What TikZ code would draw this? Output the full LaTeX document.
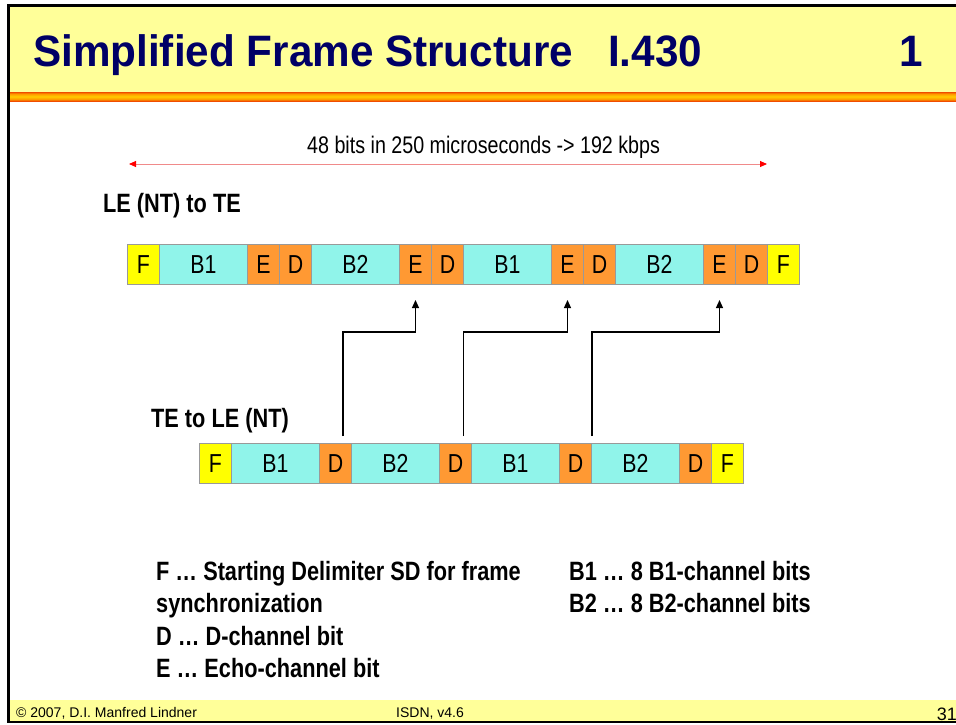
\documentclass[tikz,border=0pt]{standalone}
\usepackage{fontspec}
\setmainfont{Liberation Sans}
\newfontfamily\narrowfont[FakeStretch=0.82]{Liberation Sans}
\newfontfamily\titlefont[FakeStretch=0.96]{Liberation Sans}
\usetikzlibrary{calc,arrows.meta}
\definecolor{bandyellow}{HTML}{FFFF99}
\definecolor{titleblue}{HTML}{000066}
\definecolor{cellyellow}{HTML}{FFFF00}
\definecolor{cellcyan}{HTML}{90F4EA}
\definecolor{cellorange}{HTML}{FF9933}
\definecolor{cellborder}{HTML}{999999}
\definecolor{sdarkred}{HTML}{990000}
\definecolor{sred}{HTML}{E00000}
\definecolor{sorange}{HTML}{FF9900}
\definecolor{syellow}{HTML}{FFCC00}
\definecolor{arrowline}{HTML}{F08A8A}
\definecolor{arrowhead}{HTML}{FF0000}
\pgfdeclareverticalshading{stripeshade}{100bp}{color(0bp)=(sdarkred); color(15bp)=(sred); color(35bp)=(sorange); color(50bp)=(syellow); color(65bp)=(sorange); color(85bp)=(sred); color(100bp)=(sred)}
\tikzset{
  cell/.style={draw=cellborder, line width=1pt, minimum height=40pt, inner sep=0pt, outer sep=0pt, anchor=west,
    text height=18.6pt, text depth=0pt, font=\narrowfont\fontsize{26}{26}\selectfont},
  fcell/.style={cell, fill=cellyellow, minimum width=32pt},
  bcell/.style={cell, fill=cellcyan, minimum width=88pt},
  ocell/.style={cell, fill=cellorange, minimum width=32pt},
  conn/.style={line width=1.2pt, -{Triangle[length=8pt,width=7pt]}},
  redarrow/.style={draw=arrowline, line width=0.9pt, {Triangle[length=7pt,width=6pt,fill=arrowhead,color=arrowhead]}-{Triangle[length=7pt,width=6pt,fill=arrowhead,color=arrowhead]}},
  rowlabel/.style={anchor=base west, inner sep=0pt, font=\narrowfont\bfseries\fontsize{26.5}{26.5}\selectfont},
  legend/.style={anchor=base west, inner sep=0pt, font=\narrowfont\bfseries\fontsize{26.5}{26.5}\selectfont},
  titletext/.style={anchor=base west, inner sep=0pt, text=titleblue, font=\titlefont\bfseries\fontsize{44}{44}\selectfont},
  foot/.style={inner sep=0pt, font=\fontsize{14}{14}\selectfont},
}
\begin{document}
\begin{tikzpicture}[x=1pt,y=-1pt]
\useasboundingbox (0,0) rectangle (956,724);
\fill[white] (0,0) rectangle (956,724);
% bands
\fill[bandyellow] (8.5,5) rectangle (956,92);
\fill[shading=stripeshade] (8.5,92) rectangle (956,101);
\fill[bandyellow] (8.5,700) rectangle (956,720.5);
% frame
\draw[line width=2.5pt] (956,5.5) -- (8.7,5.5) -- (8.7,721.8) -- (956,721.8);
% title
\node[titletext] (title) at (33,66) {Simplified Frame Structure};
\node[titletext] (std) at (608,66) {I.430};
\node[titletext] (num) at (899,66) {1};
% rate arrow
\node[anchor=base west, inner sep=0pt, font=\narrowfont\fontsize{24}{24}\selectfont] (rate) at (307,153) {48 bits in 250 microseconds -> 192 kbps};
\coordinate (ra) at (129,164);
\coordinate (rb) at (767,164);
\draw[redarrow] (ra) -- (rb);
% top row
\node[rowlabel] (lbltop) at (103,212) {LE (NT) to TE};
\node[fcell] (t1) at (127.5,264) {F};
\node[bcell] (t2) at (159.5,264) {B1};
\node[ocell] (t3) at (247.5,264) {E};
\node[ocell] (t4) at (279.5,264) {D};
\node[bcell] (t5b) at (311.5,264) {B2};
\node[ocell] (t5) at (399.5,264) {E};
\node[ocell] (t6) at (431.5,264) {D};
\node[bcell] (t7) at (463.5,264) {B1};
\node[ocell] (t9) at (551.5,264) {E};
\node[ocell] (t10) at (583.5,264) {D};
\node[bcell] (t11) at (615.5,264) {B2};
\node[ocell] (t13) at (703.5,264) {E};
\node[ocell] (t14) at (735.5,264) {D};
\node[fcell] (t15) at (767.5,264) {F};
% bottom row
\node[rowlabel] (lblbot) at (151,427) {TE to LE (NT)};
\node[fcell] (b1) at (199.5,463) {F};
\node[bcell] (b2) at (231.5,463) {B1};
\node[ocell] (b3) at (319.5,463) {D};
\node[bcell] (b4) at (351.5,463) {B2};
\node[ocell] (b5) at (439.5,463) {D};
\node[bcell] (b6) at (471.5,463) {B1};
\node[ocell] (b7) at (559.5,463) {D};
\node[bcell] (b8) at (591.5,463) {B2};
\node[ocell] (b9) at (679.5,463) {D};
\node[fcell] (b10) at (711.5,463) {F};
% connectors
\draw[conn] ($(b3.north)+(7.5,-7)$) |- ($(t5.south)+(0,48)$) -- ($(t5.south)+(0,16)$);
\draw[conn] ($(b5.north)+(8,-7)$) |- ($(t9.south)+(0,48)$) -- ($(t9.south)+(0,16)$);
\draw[conn] ($(b7.north east)+(0.5,-7)$) |- ($(t13.south)+(0,48)$) -- ($(t13.south)+(0,16)$);
% legend
\node[legend] (lf) at (156,580) {F … Starting Delimiter SD for frame};
\node[legend] (lf2) at (156,612) {synchronization};
\node[legend] (ld) at (156,645) {D … D-channel bit};
\node[legend] (le) at (156,677) {E … Echo-channel bit};
\node[legend] (lb1) at (569,580) {B1 … 8 B1-channel bits};
\node[legend] (lb2) at (569,612) {B2 … 8 B2-channel bits};
% footer
\node[foot, anchor=base west] (copy) at (16,717) {© 2007, D.I. Manfred Lindner};
\node[foot, anchor=base west] (isdn) at (396,717) {ISDN, v4.6};
\node[inner sep=0pt, anchor=base east, font=\fontsize{18}{18}\selectfont] (page) at (957,720) {31};
\end{tikzpicture}
\end{document}
